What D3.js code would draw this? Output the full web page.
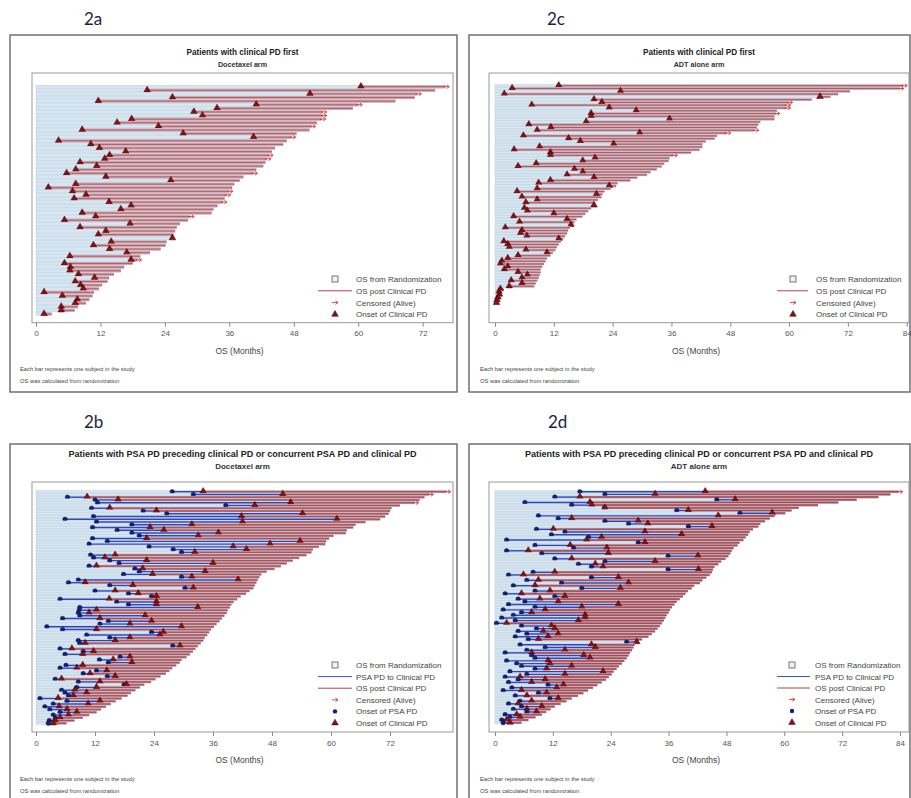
<!DOCTYPE html>
<html>
<head>
<meta charset="utf-8">
<script src="https://cdn.jsdelivr.net/npm/d3@7"></script>
<style>
  body { margin: 0; background: #fff; }
  svg { display: block; }
</style>
</head>
<body>
<script>
// Swimmer plots: clinical PD first (2a, 2c) and PSA PD before clinical PD (2b, 2d)

const ticksDoce = [0, 12, 24, 36, 48, 60, 72];
const ticksAdt = [0, 12, 24, 36, 48, 60, 72, 84];
const legendClin = ["OS from Randomization", "OS post Clinical PD", "Censored (Alive)", "Onset of Clinical PD"];
const legendPsa = ["OS from Randomization", "PSA PD to Clinical PD", "OS post Clinical PD", "Censored (Alive)", "Onset of PSA PD", "Onset of Clinical PD"];
const footnotes = ["Each bar represents one subject in the study", "OS was calculated from randomization"];

// 2a docetaxel, clinical PD first: [onset clinical PD, OS, censored]
const docClin = [
  [60.5, 76.2, 1], [20.7, 74.3, 0], [51, 71, 1], [25.4, 70.5, 0], [11.6, 66.9, 0],
  [41, 60, 1], [33.7, 59, 0], [29.4, 53.4, 1], [31, 53.4, 1], [17.8, 53.2, 1],
  [15.1, 52.3, 0], [22.8, 51.3, 1], [8.6, 50.9, 0], [27.4, 48.5, 0], [40.5, 47.6, 1],
  [4.2, 46.7, 0], [10.2, 46, 0], [11.8, 44.5, 0], [16.7, 43.9, 0], [13.7, 43.4, 1],
  [12.8, 43, 1], [8.2, 42.7, 0], [11.3, 42.3, 0], [7.4, 41, 0], [5.7, 40.5, 1],
  [13, 38.6, 0], [25.1, 37.9, 0], [7.4, 36.9, 0], [2.3, 36.5, 0], [6.8, 35.9, 1],
  [9.3, 35.5, 1], [7.1, 35.1, 0], [13.6, 34.8, 1], [17.7, 33.8, 0], [15.8, 33, 0],
  [8.6, 32.7, 0], [11.1, 28.7, 1], [5.3, 28.3, 0], [17.5, 26.8, 0], [8.2, 26.2, 0],
  [13, 25.9, 0], [11.6, 25.6, 0], [25.4, 25.6, 0], [14, 24.3, 0], [10.7, 24.1, 0],
  [13.7, 23.2, 0], [16.9, 21.2, 0], [6.3, 19.4, 0], [17.7, 18.9, 1], [5.3, 18, 0],
  [6.4, 16.4, 0], [6.3, 15.8, 0], [7.9, 14.5, 0], [10.9, 13.6, 0], [7.3, 13.3, 0],
  [8.3, 12.3, 0], [8.8, 11.7, 0], [1.5, 10.8, 0], [4.9, 10.5, 0], [7.7, 9.9, 0],
  [7.3, 9.3, 0], [4.7, 7.8, 0], [4.7, 7.2, 0], [1.5, 2.9, 0]
];

// 2c ADT alone, clinical PD first: [onset clinical PD, OS, censored]
const adtClin = [
  [13, 83.3, 1], [3.5, 82.6, 1], [25.6, 72.4, 0], [1.9, 70, 0], [66.3, 68.4, 0],
  [20.2, 64.6, 0], [21.8, 59.9, 1], [7.5, 59.5, 1], [23.3, 59.5, 1], [28.8, 57.5, 0],
  [19.6, 57.3, 1], [19.6, 57, 0], [35.6, 57, 0], [18.6, 54.1, 0], [6.9, 53.7, 0],
  [11.4, 53.4, 0], [8.6, 53, 1], [29.5, 47.3, 1], [5.8, 45.3, 0], [15, 44.8, 0],
  [17.4, 43, 0], [24.2, 42.3, 0], [9.1, 42.3, 0], [3.9, 41.7, 0], [11.3, 40, 0],
  [11.3, 36.4, 1], [20.4, 35.6, 0], [17.9, 35.4, 0], [8.4, 34.5, 0], [4.7, 34, 0],
  [16.2, 33, 0], [17.9, 31.7, 0], [14.7, 31, 0], [20.2, 29, 0], [11.3, 27.6, 0],
  [8.9, 25, 0], [23.3, 24.7, 0], [8.6, 23.6, 0], [4.5, 22.3, 0], [20.7, 21.9, 0],
  [5.5, 21.7, 0], [8.6, 21, 0], [6.3, 20.4, 0], [20.2, 20.2, 0], [6, 19.6, 0],
  [6.6, 19, 0], [12, 18.4, 0], [3.8, 17.8, 0], [14.7, 16.6, 0], [5, 16.2, 0],
  [15.5, 15.9, 0], [2.1, 15.3, 0], [5.5, 14.9, 0], [5.2, 14.7, 0], [6.5, 14.3, 0],
  [13, 13.9, 0], [1.8, 13.4, 0], [2.6, 13, 0], [2.9, 12.6, 0], [6.3, 12.3, 0],
  [10.6, 11.8, 0], [4.7, 11.3, 0], [2.6, 10.6, 0], [1.4, 10.3, 0], [1.1, 10, 0],
  [2.6, 9.6, 0], [1.9, 9.3, 0], [4.7, 9.3, 0], [6.6, 9.1, 0], [5.5, 8.9, 0],
  [3.3, 8.6, 0], [5.5, 8.3, 0], [2.9, 8, 0], [1.1, 1.7, 0], [0.8, 1.4, 0],
  [0.9, 1.3, 0], [0.6, 1.2, 0], [0.4, 0.9, 0], [0.3, 0.6, 0]
];

// 2b docetaxel, PSA PD first: [onset PSA PD, onset clinical PD, OS, censored]
const docPsa = [
  [27.7, 34, 83.5, 1], [32, 50.2, 80, 1], [6.4, 10.4, 79, 0], [12, 16.7, 78, 0], [12.5, 51.8, 77, 1],
  [38.6, 44.5, 74, 0], [11.3, 15, 72.3, 0], [21.8, 24.5, 72, 0], [26.6, 54.2, 71.7, 0], [11.7, 41.8, 71, 0],
  [5.9, 61.2, 70, 0], [12.3, 42, 67, 0], [19.5, 31.7, 65, 0], [11.5, 23.2, 64.5, 0], [16.5, 26, 63.2, 0],
  [19.5, 37.1, 63, 0], [21, 33, 60.5, 0], [11.5, 22.5, 59.6, 0], [14.5, 53.7, 59, 0], [10.8, 47.6, 58.8, 0],
  [23, 40.1, 57.5, 0], [27.9, 42.8, 56.3, 0], [29.6, 32.3, 56, 0], [11.1, 16.1, 55, 0], [11.7, 14, 53.5, 0],
  [15, 22.5, 52.2, 0], [16.9, 36, 51, 0], [10.8, 12.3, 49.8, 0], [20.1, 21.7, 48.5, 0], [21, 34.4, 46.9, 0],
  [17.8, 23.7, 45.8, 0], [29.6, 31.7, 45.4, 0], [8.6, 41.1, 45.1, 0], [6.6, 10, 44.8, 0], [15, 19.7, 44.5, 0],
  [30.3, 32, 44.2, 0], [12, 16.1, 43.4, 0], [18.8, 20.8, 42.7, 0], [23.5, 24.5, 41.6, 0], [4.9, 14.9, 40.9, 0],
  [16.4, 24.5, 40.2, 0], [18.8, 24.5, 39.7, 0], [8.9, 32.9, 39.4, 0], [8.8, 12.3, 39, 0], [8.6, 10.8, 38.8, 0],
  [8.9, 22.2, 38.3, 0], [5.4, 13, 37.8, 0], [14.7, 23.5, 37.3, 0], [13, 19.1, 36.7, 0], [2.2, 29.6, 36.2, 0],
  [5.4, 12.3, 35.6, 0], [23.5, 25.9, 35.2, 0], [10.3, 25.2, 34.8, 0], [15, 19.1, 34.3, 0], [8.6, 16.1, 34, 0],
  [8.9, 10, 33.5, 0], [27.8, 29.3, 32.9, 0], [4.9, 7.3, 32.4, 0], [9.6, 11.7, 31.9, 0], [5.9, 9.5, 31.3, 0],
  [17.1, 19.1, 30.6, 0], [12.9, 15.7, 29.6, 0], [14.7, 19.5, 29.2, 0], [6.1, 9.5, 28.5, 0], [4.9, 8.3, 27.7, 0],
  [12.3, 14.4, 27.1, 0], [9.6, 11, 26.4, 0], [14.5, 16.1, 25.3, 0], [3.9, 5.2, 24.3, 0], [8.6, 13, 23.4, 0],
  [17.9, 18.4, 22, 0], [8.3, 12.3, 21.1, 0], [5.2, 7.9, 20.2, 0], [5.9, 10.3, 19.3, 0], [6.6, 7.6, 18.6, 0],
  [0.8, 4.5, 17.4, 0], [6.3, 13, 16.2, 0], [3.5, 10.6, 15.2, 0], [1.8, 4.7, 14.2, 0], [2.8, 6.3, 13.2, 0],
  [4.9, 8.3, 12.3, 0], [3.5, 6.6, 10.8, 0], [3.9, 4.9, 9.5, 0], [2.7, 3.9, 7.8, 0], [2.5, 3.5, 6.2, 0]
];

// 2d ADT alone, PSA PD first: [onset PSA PD, onset clinical PD, OS, censored]
const adtPsa = [
  [17.6, 43.6, 83.7, 1], [22.8, 33.2, 82, 0], [12.4, 17.6, 79.5, 0], [46, 49.8, 75, 0], [6.2, 19.7, 71.2, 0],
  [15.9, 20.1, 67, 0], [22.7, 22.8, 63, 0], [37.7, 40.1, 61.5, 0], [50.8, 57.5, 60.2, 0], [9, 46.3, 58, 0],
  [13.1, 15.9, 57, 0], [22.8, 29.7, 56, 0], [27.7, 31.7, 55, 0], [40.1, 45, 54.6, 0], [8.6, 12.1, 53.5, 0],
  [14.5, 31.1, 52.8, 0], [11.7, 38.7, 52.5, 0], [19.4, 22.1, 52, 0], [2.4, 19, 51.5, 0], [29.7, 31.1, 50.7, 0],
  [8.3, 15.6, 50.3, 0], [16.3, 23.2, 49.5, 0], [2.4, 6.9, 49.1, 0], [9.7, 23.5, 48.8, 0], [35.9, 42.1, 48.4, 0],
  [12.4, 15.9, 47.8, 0], [22.8, 33.2, 46.9, 0], [17.3, 20.8, 46.3, 0], [20, 22.4, 45.5, 0], [35.9, 42.2, 45.2, 0],
  [7.9, 12.4, 45, 0], [2.8, 5.9, 44.5, 0], [20, 25.6, 43.8, 0], [6.6, 9, 43, 0], [13.8, 27.7, 42.5, 0],
  [3.8, 8.3, 41.3, 0], [18, 26, 40.8, 0], [8.3, 11.4, 40, 0], [2.1, 5.5, 39.5, 0], [12.4, 14.5, 39, 0],
  [4.8, 9.3, 38.3, 0], [6.2, 13.1, 37.7, 0], [2.8, 25.6, 37.2, 0], [8.3, 18, 36.7, 0], [1.7, 10.4, 36.3, 0],
  [5.5, 7.6, 36, 0], [3.8, 18.7, 35.6, 0], [1.4, 18.7, 35.3, 0], [4.2, 17.3, 35, 0], [0.3, 2.4, 34.6, 0],
  [5.5, 11.7, 34.2, 0], [8.6, 12.4, 33.7, 0], [4.8, 10, 33.2, 0], [6.6, 13.1, 32.5, 0], [4.2, 11, 31.8, 0],
  [6.9, 9, 30.5, 0], [27.3, 29.4, 29.6, 0], [5.2, 20, 29, 0], [10.4, 20.8, 28.7, 0], [6.6, 14.5, 28.4, 0],
  [2.1, 7.6, 28, 0], [7.6, 18.4, 27.7, 0], [8.3, 19.7, 27.3, 0], [2.4, 11, 26.8, 0], [4.5, 11.4, 26.3, 0],
  [5.5, 15.9, 25.7, 0], [8.3, 10.7, 25.2, 0], [3.1, 22.4, 24.6, 0], [6.6, 14.5, 24.2, 0], [2.1, 5.2, 23.6, 0],
  [4.8, 10.4, 23, 0], [2.8, 7.6, 22.1, 0], [11, 14.2, 21.2, 0], [3.5, 12.8, 20.3, 0], [1.7, 5.5, 19.3, 0],
  [9, 10.7, 18.3, 0], [4.2, 6.6, 17.2, 0], [11.4, 13.1, 15.9, 0], [5.2, 7.6, 14.8, 0], [2.8, 4.8, 13.6, 0],
  [5.5, 9.7, 12.4, 0], [3.8, 6.6, 11.5, 0], [6.6, 8.6, 10.6, 0], [2.1, 4.5, 9.7, 0], [3.1, 5.2, 8.4, 0],
  [1.4, 2.4, 6.9, 0], [1.7, 3.1, 5.5, 0]
];

const svg = d3.select("body").append("svg")
    .attr("width", 911)
    .attr("height", 798)
    .style("font-family", "'Liberation Sans', Arial, sans-serif");

const blueFill = "#d5e7f3", redLine = "#94303c";

const panels = [
  {label: "2a", lx: 84, ly: 25, frame: [10, 35, 447, 357], title: "Patients with clinical PD first", sub: "Docetaxel arm",
   tSize: 8.2, ty: 55, plot: [32, 73, 453, 322.7], x0: 36, xEnd: 422.7, ticks: ticksDoce, redFill: "#d2a5ac",
   rows: docClin.map(d => ({psa: null, pd: d[0], os: d[1], cens: d[2]})), rowTop: 86.7, rowBot: 314,
   legend: legendClin, kinds: ["square", "red", "arrow", "tri"], sx: 335, lineX: [318, 352], tx: 356, ly0: 279, lstep: 11.8, foot: [20, 371]},
  {label: "2c", lx: 547, ly: 25, frame: [469, 35, 441, 357], title: "Patients with clinical PD first", sub: "ADT alone arm",
   tSize: 8.2, ty: 55, plot: [489, 73, 909, 322.7], x0: 495, xEnd: 906.7, ticks: ticksAdt, redFill: "#cc9ca4",
   rows: adtClin.map(d => ({psa: null, pd: d[0], os: d[1], cens: d[2]})), rowTop: 85.7, rowBot: 303,
   legend: legendClin, kinds: ["square", "red", "arrow", "tri"], sx: 793, lineX: [777, 808], tx: 816, ly0: 279, lstep: 11.8, foot: [480, 371]},
  {label: "2b", lx: 84, ly: 428, frame: [10, 444, 447, 360], title: "Patients with PSA PD preceding clinical PD or concurrent PSA PD and clinical PD", sub: "Docetaxel arm",
   tSize: 9, ty: 457, plot: [32, 482, 453, 732], x0: 36, xEnd: 390, ticks: ticksDoce, redFill: "#c07f87",
   rows: docPsa.map(d => ({psa: d[0], pd: d[1], os: d[2], cens: d[3]})), rowTop: 491.7, rowBot: 723.3,
   legend: legendPsa, kinds: ["square", "blue", "red", "arrow", "dot", "tri"], sx: 335, lineX: [318, 352], tx: 356, ly0: 665, lstep: 11.6, foot: [20, 781]},
  {label: "2d", lx: 548, ly: 428, frame: [469, 444, 441, 360], title: "Patients with PSA PD preceding clinical PD or concurrent PSA PD and clinical PD", sub: "ADT alone arm",
   tSize: 9, ty: 457, plot: [489, 482, 909, 732], x0: 495, xEnd: 900, ticks: ticksAdt, redFill: "#b86f78",
   rows: adtPsa.map(d => ({psa: d[0], pd: d[1], os: d[2], cens: d[3]})), rowTop: 491.7, rowBot: 722.7,
   legend: legendPsa, kinds: ["square", "blue", "red", "arrow", "dot", "tri"], sx: 792, lineX: [777, 810], tx: 815, ly0: 665, lstep: 11.5, foot: [480, 781]}
];

const triangle = d3.symbol().type(d3.symbolTriangle).size(19);

function arrowPath(x, y) {
  return `M${x - 2},${y}H${x + 4}M${x + 1.5},${y - 1.8}L${x + 4},${y}L${x + 1.5},${y + 1.8}`;
}

function drawPanel(p) {
  const g = svg.append("g");

  g.append("text")
    .attr("x", p.lx).attr("y", p.ly)
    .text(p.label)
    .style("font-family", "Lato, 'Open Sans', sans-serif")
    .style("font-size", "17px")
    .style("fill", "#1d2340");

  g.append("rect")
    .attr("x", p.frame[0]).attr("y", p.frame[1])
    .attr("width", p.frame[2]).attr("height", p.frame[3])
    .attr("fill", "none").attr("stroke", "#666").attr("stroke-width", 1.4);

  const cx = (p.plot[0] + p.plot[2]) / 2;
  g.append("text").attr("x", cx).attr("y", p.ty)
    .attr("text-anchor", "middle").text(p.title)
    .style("font-size", p.tSize + "px").style("font-weight", "bold").style("fill", "#222");
  g.append("text").attr("x", cx).attr("y", p.ty + 12)
    .attr("text-anchor", "middle").text(p.sub)
    .style("font-size", (p.tSize - 1) + "px").style("font-weight", "bold").style("fill", "#333");

  g.append("rect")
    .attr("x", p.plot[0]).attr("y", p.plot[1])
    .attr("width", p.plot[2] - p.plot[0]).attr("height", p.plot[3] - p.plot[1])
    .attr("fill", "#fff").attr("stroke", "#999").attr("stroke-width", 1);

  const x = d3.scaleLinear().domain([0, p.ticks[p.ticks.length - 1]]).range([p.x0, p.xEnd]);
  const y = d3.scalePoint().domain(d3.range(p.rows.length)).range([p.rowTop, p.rowBot]);
  const bh = Math.max(y.step() * 0.82, 1.5);

  const rows = g.append("g").selectAll("g").data(p.rows).join("g")
    .attr("transform", (d, i) => `translate(0,${y(i)})`);

  // whole OS bar
  rows.append("rect")
    .attr("x", x(0)).attr("y", -bh / 2)
    .attr("width", d => x(d.os) - x(0)).attr("height", bh)
    .attr("fill", blueFill).attr("stroke", "#b6c6d4").attr("stroke-width", 0.4);

  // OS after clinical PD
  rows.append("rect")
    .attr("x", d => x(d.pd)).attr("y", -bh / 2)
    .attr("width", d => Math.max(x(d.os) - x(d.pd), 0)).attr("height", bh)
    .attr("fill", p.redFill);
  rows.append("line")
    .attr("x1", d => x(d.pd)).attr("x2", d => x(d.os))
    .attr("stroke", redLine).attr("stroke-width", 0.6);

  // PSA PD to clinical PD
  rows.filter(d => d.psa != null).append("line")
    .attr("x1", d => x(d.psa)).attr("x2", d => x(d.pd))
    .attr("stroke", "#3346b8").attr("stroke-width", 1.4);

  rows.filter(d => d.cens).append("path")
    .attr("d", d => arrowPath(x(d.os), 0))
    .attr("fill", "none").attr("stroke", "#d23a3a").attr("stroke-width", 0.9);

  rows.filter(d => d.psa != null).append("circle")
    .attr("cx", d => x(d.psa)).attr("r", 2.3)
    .attr("fill", "#12207a").attr("stroke", "#0a1040").attr("stroke-width", 0.4);

  rows.append("path")
    .attr("d", triangle)
    .attr("transform", d => `translate(${x(d.pd)},-0.3)`)
    .attr("fill", "#8a0f14").attr("stroke", "#3a0508").attr("stroke-width", 0.5);

  // x axis
  const ax = g.append("g")
    .attr("transform", `translate(0,${p.plot[3]})`)
    .call(d3.axisBottom(x).tickValues(p.ticks).tickSize(4).tickPadding(4));
  ax.select(".domain").remove();
  ax.selectAll(".tick line").attr("stroke", "#888");
  ax.selectAll(".tick text").style("font-size", "8px").style("fill", "#555")
    .style("font-family", "'Liberation Sans', Arial, sans-serif");

  g.append("text").attr("x", cx - 3).attr("y", p.plot[3] + 31)
    .attr("text-anchor", "middle").text("OS (Months)")
    .style("font-size", "8.5px").style("fill", "#444");

  footnotes.forEach((t, i) => {
    g.append("text").attr("x", p.foot[0]).attr("y", p.foot[1] + i * 12)
      .text(t).style("font-size", "5.8px").style("fill", "#444");
  });

  // legend
  const leg = g.append("g").selectAll("g").data(p.legend).join("g")
    .attr("transform", (d, i) => `translate(0,${p.ly0 + i * p.lstep})`);
  leg.append("text").attr("x", p.tx).attr("y", 3)
    .text(d => d).style("font-size", "8px").style("fill", "#444");
  leg.each(function(d, i) {
    const s = d3.select(this), k = p.kinds[i];
    if (k === "square") {
      s.append("rect").attr("x", p.sx - 3).attr("y", -3).attr("width", 6).attr("height", 6)
        .attr("fill", "#eef3f8").attr("stroke", "#555").attr("stroke-width", 0.8);
    } else if (k === "red" || k === "blue") {
      s.append("line").attr("x1", p.lineX[0]).attr("x2", p.lineX[1])
        .attr("stroke", k === "red" ? "#b2404a" : "#4152c0").attr("stroke-width", 1);
    } else if (k === "arrow") {
      s.append("path").attr("d", arrowPath(p.sx - 1, 0))
        .attr("fill", "none").attr("stroke", "#d23a3a").attr("stroke-width", 0.9);
    } else if (k === "dot") {
      s.append("circle").attr("cx", p.sx).attr("r", 2.2).attr("fill", "#12207a");
    } else {
      s.append("path").attr("d", triangle).attr("transform", `translate(${p.sx},0)`)
        .attr("fill", "#8a0f14").attr("stroke", "#3a0508").attr("stroke-width", 0.5);
    }
  });
}

panels.forEach(drawPanel);
</script>
</body>
</html>
